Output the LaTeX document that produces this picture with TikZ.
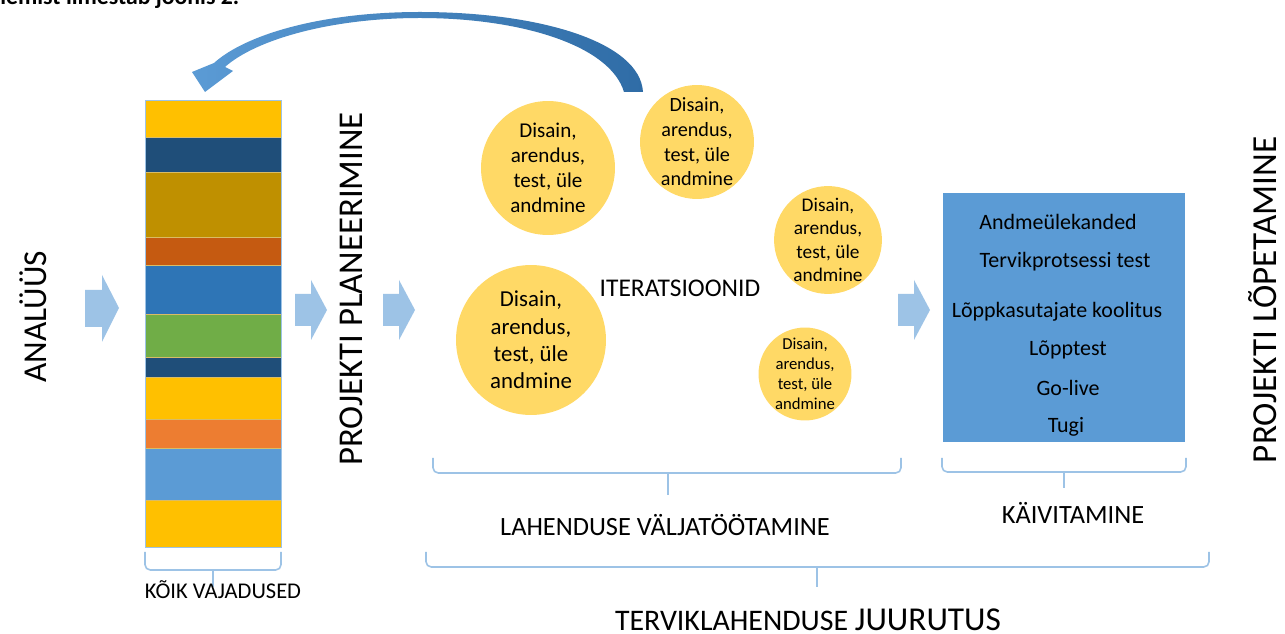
\documentclass[tikz,border=0pt]{standalone}
\usepackage{fontspec}
\setmainfont{Carlito}
\usetikzlibrary{positioning}

\definecolor{barYellow}{HTML}{FFC000}
\definecolor{barNavy}{HTML}{1F4E79}
\definecolor{barGold}{HTML}{BF9000}
\definecolor{barRust}{HTML}{C55A11}
\definecolor{barBlue}{HTML}{2E75B6}
\definecolor{barGreen}{HTML}{70AD47}
\definecolor{barOrange}{HTML}{ED7D31}
\definecolor{barSky}{HTML}{5B9BD5}
\definecolor{iterYellow}{HTML}{FFD966}
\definecolor{arrowBlue}{HTML}{9DC3E6}
\definecolor{loopLight}{HTML}{5B9BD5}
\definecolor{loopDark}{HTML}{2F6CA6}

\tikzset{
  Iter/.style={circle,fill=iterYellow,align=center,inner sep=0pt,text=black},
  Stage/.style={rotate=90,inner sep=0pt,font=\fontsize{19.8}{19.8}\selectfont},
  Caps/.style={inner sep=0pt,font=\fontsize{15}{15}\selectfont},
  Task/.style={inner sep=0pt,font=\fontsize{12.5}{12.5}\selectfont},
  Bracket/.style={draw=arrowBlue,line width=0.9pt,rounded corners=3pt},
  BlockArrow/.style={fill=arrowBlue},
}

\begin{document}
\begin{tikzpicture}[x=0.02cm,y=-0.02cm]
  \clip (0,0) rectangle (1285,634);
  \fill[white] (0,0) rectangle (1285,634);
  \node[anchor=base west,inner sep=0pt,font=\bfseries\fontsize{13.5}{13.5}\selectfont] (caption) at (0,5) {lemist ilmestab joonis 2.};

  % vertical stage labels
  \node[Stage,font=\fontsize{19}{19}\selectfont] (analyys) at (33,317) {ANALÜÜS};
  \node[Stage] (planeerimine) at (351,289) {PROJEKTI PLANEERIMINE};
  \node[Stage,font=\fontsize{20}{20}\selectfont] (lopetamine) at (1263,300) {PROJEKTI LÕPETAMINE};

  % requirements bar
  \foreach \ya/\yb/\col in {100/137/barYellow,137/172/barNavy,172/237/barGold,237/265/barRust,
      265/314/barBlue,314/357/barGreen,357/377/barNavy,377/419/barYellow,419/448/barOrange,
      448/500/barSky,500/547/barYellow}
    \fill[\col,draw=barGold!60,line width=0.3pt] (145,\ya) rectangle (281,\yb);
  \node[draw=arrowBlue,line width=0.4pt,inner sep=0pt,minimum width=2.72cm,minimum height=8.94cm] (vajadused) at (213,323.5) {};

  % block arrows
  \fill[BlockArrow,shift={(85,275)}] (0,15) -- (17,15) -- (17,0) -- (34,33) -- (17,67) -- (17,52) -- (0,52) -- cycle;
  \fill[BlockArrow,shift={(295,280)}] (0,14) -- (16,14) -- (16,0) -- (32,30) -- (16,60) -- (16,46) -- (0,46) -- cycle;
  \fill[BlockArrow,shift={(383,280)}] (0,14) -- (16,14) -- (16,0) -- (32,30) -- (16,60) -- (16,46) -- (0,46) -- cycle;
  \fill[BlockArrow,shift={(898,280)}] (0,14) -- (16,14) -- (16,0) -- (32,30) -- (16,60) -- (16,46) -- (0,46) -- cycle;

  % iterations
  \node[Iter,minimum size=2.68cm,font=\fontsize{12}{14.2}\selectfont] (iter1) at (548,168) {Disain,\\arendus,\\test, üle\\andmine};
  \node[Iter,minimum size=2.28cm,font=\fontsize{11.5}{14}\selectfont] (iter2) at (697,142) {Disain,\\arendus,\\test, üle\\andmine};
  \node[Iter,minimum size=2.12cm,font=\fontsize{11}{13.2}\selectfont] (iter3) at (828,240) {Disain,\\arendus,\\test, üle\\andmine};
  \node[Iter,minimum size=3.0cm,font=\fontsize{13}{15.5}\selectfont] (iter4) at (531,340) {Disain,\\arendus,\\test, üle\\andmine};
  \node[Iter,minimum size=1.72cm,font=\fontsize{9.5}{11.3}\selectfont] (iter5) at (805,374) {Disain,\\arendus,\\test, üle\\andmine};
  \node[Caps,font=\fontsize{14.5}{14.5}\selectfont] (iteratsioonid) at (680,288) {ITERATSIOONID};

  % loop back arrow
  \shade[left color=loopLight,right color=loopDark]
    (643,92) .. controls (640,42) and (540,12) .. (420,12)
    .. controls (320,12) and (245,35) .. (214,63)
    -- (192,72) -- (205,92) -- (233,71) -- (225,67)
    .. controls (255,40) and (330,18) .. (420,18)
    .. controls (520,18) and (610,45) .. (624,92) -- cycle;

  % go-live box
  \node[fill=barSky,inner sep=0pt,minimum width=4.84cm,minimum height=4.98cm] (kaivitus) at (1064,317.5) {};
  \node[Task] (t1) at (1058,222) {Andmeülekanded};
  \node[Task] (t2) at (1065,262) {Tervikprotsessi test};
  \node[Task] (t3) at (1057,312) {Lõppkasutajate koolitus};
  \node[Task] (t4) at (1068,350) {Lõpptest};
  \node[Task] (t5) at (1068,388) {Go-live};
  \node[Task] (t6) at (1066,427) {Tugi};

  % brackets
  \draw[Bracket] (145,552) |- (213,570) -| (281,552);
  \draw[Bracket] (213,570) -- (213,587);
  \draw[Bracket] (433,458) |- (668,473) -| (901,458);
  \draw[Bracket] (668,473) -- (668,495);
  \draw[Bracket] (942,458) |- (1064,472) -| (1186,458);
  \draw[Bracket] (1064,472) -- (1064,488);
  \draw[Bracket] (426,552) |- (817,567) -| (1209,552);
  \draw[Bracket] (817,567) -- (817,587);

  \node[inner sep=0pt,font=\fontsize{12.8}{12.8}\selectfont] (kvlabel) at (223,590) {KÕIK VAJADUSED};
  \node[Caps] (lvlabel) at (665,525) {LAHENDUSE VÄLJATÖÖTAMINE};
  \node[Caps] (kvtlabel) at (1073,513) {KÄIVITAMINE};
  \node[inner sep=0pt] (tjlabel) at (808,620) {\fontsize{17}{17}\selectfont TERVIKLAHENDUSE \fontsize{19}{19}\selectfont JUURUTUS};
\end{tikzpicture}
\end{document}
